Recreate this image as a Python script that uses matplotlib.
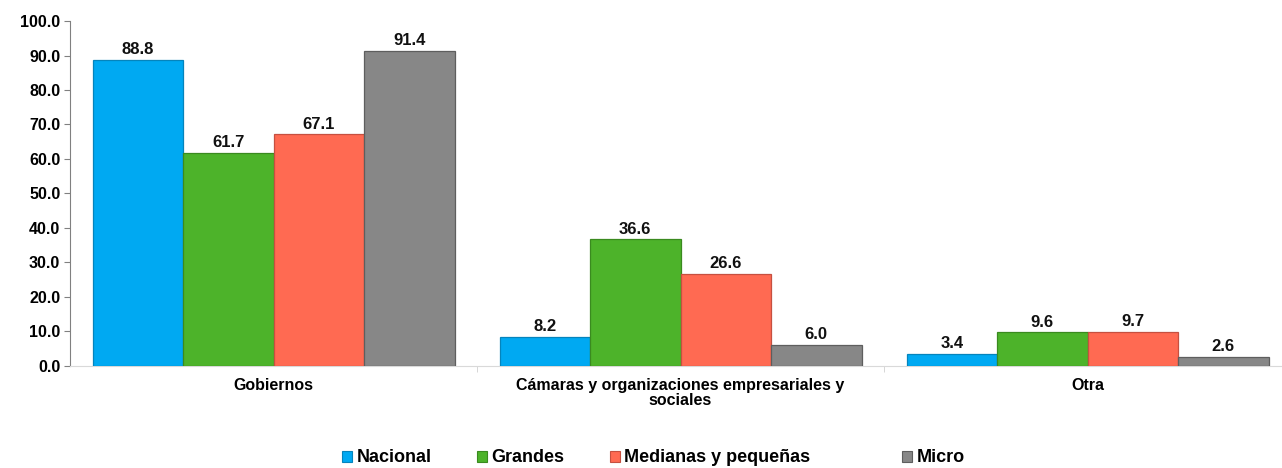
import matplotlib
matplotlib.use("Agg")
import matplotlib.pyplot as plt
import numpy as np
from matplotlib.patches import Patch

categories = ["Gobiernos", "Cámaras y organizaciones empresariales y\nsociales", "Otra"]
series_names = ["Nacional", "Grandes", "Medianas y pequeñas", "Micro"]
nacional = [88.8, 8.2, 3.4]
grandes = [61.7, 36.6, 9.6]
medianas = [67.1, 26.6, 9.7]
micro = [91.4, 6.0, 2.6]
values = [nacional, grandes, medianas, micro]
colors = ["#00A9F2", "#4DB32A", "#FF6A52", "#878787"]
edges = ["#0584BC", "#3A8A1F", "#C65040", "#5E5E5E"]
yticks = [0, 10, 20, 30, 40, 50, 60, 70, 80, 90, 100]

plt.rcParams['font.family'] = ['Liberation Sans', 'DejaVu Sans']
W, H = 1282, 468
fig = plt.figure(figsize=(W/100, H/100), dpi=100)
left_px, right_px, top_px, bot_px = 70, 1282, 21.1, 365.5
ax = fig.add_axes([left_px/W, 1 - bot_px/H, (right_px - left_px)/W, (bot_px - top_px)/H])

cat_px = 407.0
bw = 90.5 / cat_px
x = np.arange(len(categories))
for i, (vals, c, ec) in enumerate(zip(values, colors, edges)):
    pos = x + (i - 1.5) * bw
    ax.bar(pos, vals, width=bw, color=c, edgecolor=ec, linewidth=0.9, zorder=3)
    for p, v in zip(pos, vals):
        ax.annotate(f"{v:.1f}", (p, v), xytext=(0, 2), textcoords="offset points",
                    ha="center", va="bottom", fontsize=12, fontweight="bold",
                    color="#111111")

span = (right_px - left_px) / cat_px
ax.set_xlim(-0.5, -0.5 + span)
ax.set_ylim(0, 100)
ax.set_yticks(yticks)
ax.set_yticklabels([f"{t:.1f}" for t in yticks], fontsize=11.5, fontweight="bold")
ax.set_xticks(x)
ax.set_xticklabels(categories, fontsize=11.5, fontweight="bold", linespacing=1.0)
ax.tick_params(axis="x", length=0, pad=9)
ax.set_xticks([0.5, 1.5], minor=True)
ax.tick_params(axis="x", which="minor", length=4, color="#D0D0D0", direction="out")
ax.tick_params(axis="y", length=4, color="#808080", pad=3)
for s in ["top", "right"]:
    ax.spines[s].set_visible(False)
ax.spines["left"].set_color("#808080")
ax.spines["bottom"].set_color("#D9D9D9")

legend_x_px = [342, 477, 610, 902]
for name, c, ec, lx in zip(series_names, colors, edges, legend_x_px):
    h = Patch(facecolor=c, edgecolor=ec, linewidth=0.8)
    fig.legend([h], [name], loc="center left", bbox_to_anchor=(lx / W, 1 - 458/H),
               frameon=False, prop={"weight": "bold", "size": 13},
               handlelength=0.55, handleheight=0.55, handletextpad=0.25,
               borderpad=0, borderaxespad=0)

fig.savefig("out.png", dpi=100)
